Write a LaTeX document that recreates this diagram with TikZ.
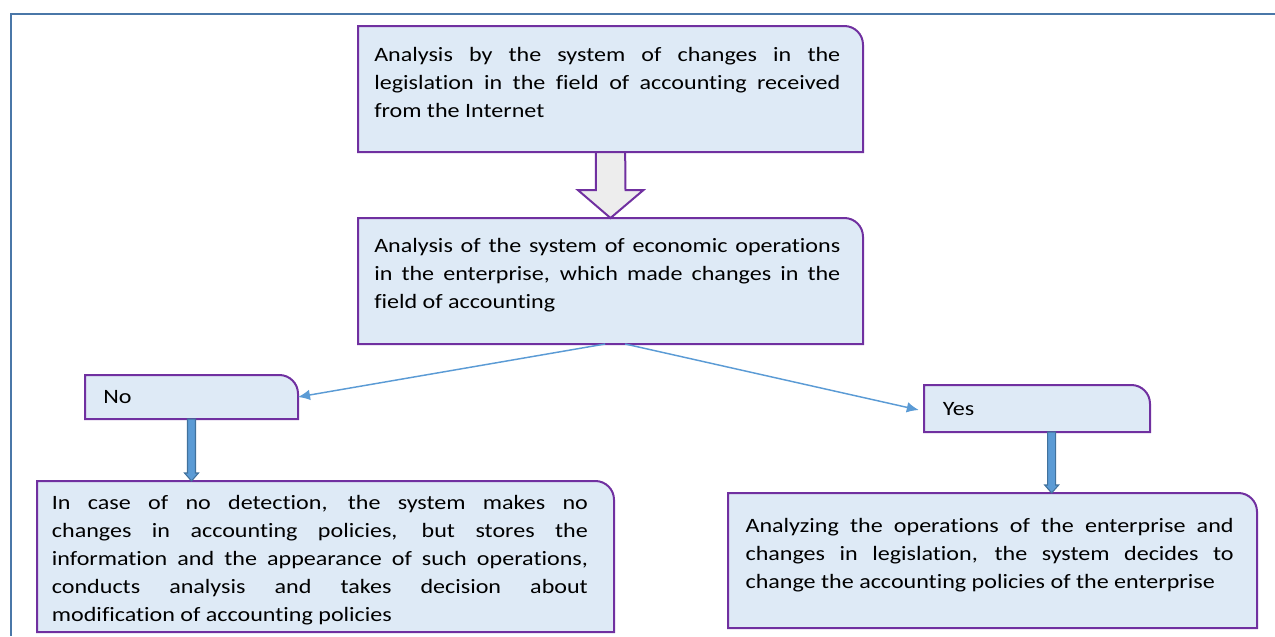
\documentclass[tikz,border=0pt]{standalone}
\usepackage{fontspec}
\setmainfont{Carlito}[FakeStretch=1.18,Ligatures=NoCommon]
\usetikzlibrary{positioning, calc, arrows.meta}
\hyphenpenalty=10000
\definecolor{boxfill}{HTML}{DEEAF6}
\definecolor{boxpurple}{HTML}{7030A0}
\definecolor{lineblue}{HTML}{5B9BD5}
\definecolor{darkblue}{HTML}{41719C}
\definecolor{framecol}{HTML}{4A77A8}
\definecolor{arrowgray}{HTML}{EDEDED}
\tikzset{
  boxnode/.style={anchor=north west,inner sep=0pt,outer sep=0pt},
  boxline/.style={draw=boxpurple,line width=1.5pt,fill=boxfill},
  txt/.style={anchor=north west,align=justify,inner xsep=12pt,inner ysep=14pt,
    font=\fontsize{15.3}{21}\selectfont},
  branch/.style={draw=lineblue,line width=1.1pt,-{Latex[length=9pt,width=8pt]}},
  fatarrow/.style={fill=lineblue,draw=darkblue,line width=0.8pt},
  grayarrow/.style={fill=arrowgray,draw=boxpurple,line width=1.5pt},
  frameline/.style={draw=framecol,line width=2.2pt},
}

\begin{document}
\begin{tikzpicture}[x=0.75pt,y=-0.75pt]
    \useasboundingbox (0,0) rectangle (1275,636);
    \draw[frameline] (1275,14) -- (11,14) -- (11,636);

    % box frames
    \node[boxnode,minimum width=378.75pt,minimum height=94.5pt] (top) at (358,26) {};
    \node[boxnode,minimum width=378.75pt,minimum height=94.5pt] (mid) at (358,218) {};
    \node[boxnode,minimum width=159.75pt,minimum height=33pt] (no) at (85,375) {};
    \node[boxnode,minimum width=169.5pt,minimum height=35.25pt] (yes) at (924,385) {};
    \node[boxnode,minimum width=432.75pt,minimum height=113.25pt] (left) at (37,481) {};
    \node[boxnode,minimum width=396.75pt,minimum height=101.25pt] (right) at (728,493) {};
    \foreach \n in {top,mid,no,yes,left,right}
      \draw[boxline] (\n.south west) -- (\n.north west) -- ([xshift=-14pt]\n.north east)
        arc[start angle=90,end angle=0,radius=14pt] -- (\n.south east) -- cycle;

    % texts
    \node[txt,text width=349.5pt,inner ysep=15.5pt] (toptext) at (top.north west)
      {Analysis by the system of changes in the\linebreak legislation in the field of accounting received\linebreak from the Internet};
    \node[txt,text width=349.5pt,inner ysep=15pt] (midtext) at (mid.north west)
      {Analysis of the system of economic operations\linebreak in the enterprise, which made changes in the\linebreak field of accounting};
    \node[txt,inner xsep=13.5pt,inner ysep=11.5pt] (notext) at (no.north west) {No};
    \node[txt,inner xsep=14pt,inner ysep=12.5pt] (yestext) at (yes.north west) {Yes};
    \node[txt,text width=402pt,inner xsep=11pt,inner ysep=10.5pt] (lefttext) at (left.north west)
      {In case of no detection, the system makes no\linebreak changes in accounting policies, but stores the\linebreak information and the appearance of such operations,\linebreak conducts analysis and takes decision about\linebreak modification of accounting policies};
    \node[txt,text width=366pt,inner xsep=13pt,inner ysep=18.5pt] (righttext) at (right.north west)
      {Analyzing the operations of the enterprise and\linebreak changes in legislation, the system decides to\linebreak change the accounting policies of the enterprise};

    % connectors
    \draw[grayarrow] ([xshift=-11pt]top.south) -- ++(0,38) -- ++(-18,0) -- (mid.north)
      -- ++(33,-28) -- ++(-18,0) -- ([xshift=11pt]top.south) -- cycle;
    \draw[branch] ([xshift=-4pt]mid.south) -- (no.east);
    \draw[branch,shorten >=4pt] ([xshift=11pt]mid.south) -- ([yshift=-2pt]yes.west);

    \coordinate (ns) at (no.south);
    \coordinate (nt) at (no.south |- left.north);
    \coordinate (ys) at ([xshift=11pt]yes.south);
    \coordinate (yt) at (ys |- right.north);
    \foreach \s/\t in {ns/nt,ys/yt}
      \draw[fatarrow] ($(\s)+(-4,0)$) -- ($(\t)+(-4,-8)$) -- ($(\t)+(-7,-8)$) -- (\t)
        -- ($(\t)+(7,-8)$) -- ($(\t)+(4,-8)$) -- ($(\s)+(4,0)$) -- cycle;
\end{tikzpicture}
\end{document}
